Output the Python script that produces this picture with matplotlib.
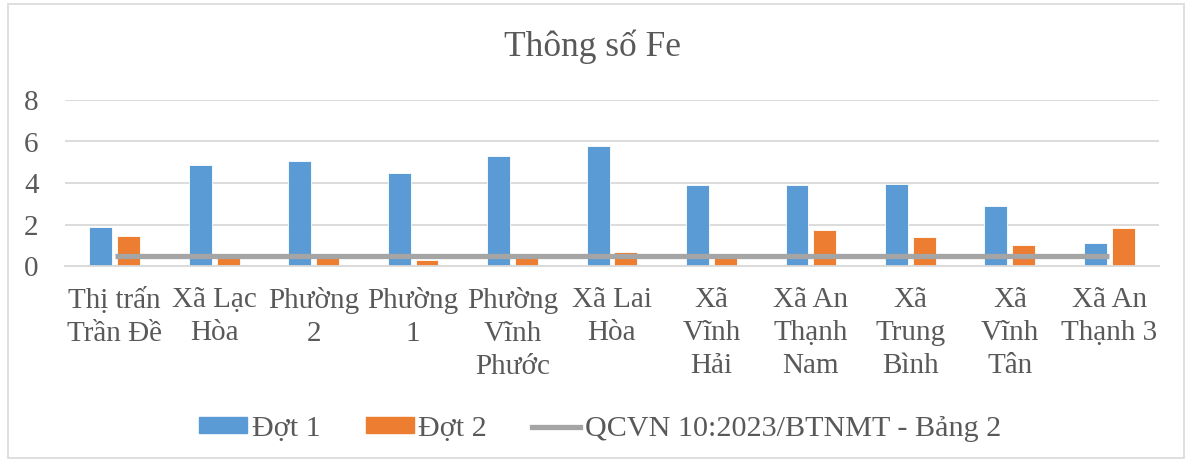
import matplotlib
matplotlib.use("Agg")
import matplotlib.pyplot as plt
import numpy as np
from matplotlib.patches import Rectangle, Patch
from matplotlib.lines import Line2D

categories = ["Thị trấn\nTrần Đề", "Xã Lạc\nHòa", "Phường\n2", "Phường\n1",
              "Phường\nVĩnh\nPhước", "Xã Lai\nHòa", "Xã\nVĩnh\nHải",
              "Xã An\nThạnh\nNam", "Xã\nTrung\nBình", "Xã\nVĩnh\nTân",
              "Xã An\nThạnh 3"]
dot1 = [1.88, 4.88, 5.04, 4.48, 5.31, 5.78, 3.88, 3.91, 3.96, 2.87, 1.10]
dot2 = [1.46, 0.37, 0.45, 0.28, 0.48, 0.68, 0.48, 1.75, 1.42, 1.00, 1.82]
qcvn = [0.5] * len(categories)
yticks = [0, 2, 4, 6, 8]

series_names = ["Đợt 1", "Đợt 2", "QCVN 10:2023/BTNMT - Bảng 2"]
title = "Thông số Fe"

BLUE = "#5B9BD5"
ORANGE = "#ED7D31"
GRAY = "#A5A5A5"
TXT = "#595959"
GRID = "#D9D9D9"

plt.rcParams['font.family'] = ['Liberation Serif', 'DejaVu Serif']

W, H = 1186, 461
fig = plt.figure(figsize=(W / 100, H / 100), dpi=100)
fig.patch.set_facecolor("white")

# outer border
fig.patches.append(Rectangle((7.5 / W, 3.5 / H), (1184 - 7.5) / W, (457 - 3.5) / H,
                             transform=fig.transFigure, fill=False,
                             edgecolor=GRID, linewidth=1.2))

ax = fig.add_axes([65 / W, (H - 266) / H, (1159 - 65) / W, (266 - 100) / H])
x = np.arange(len(categories))
bw = 0.23
ax.bar(x - 0.14, dot1, width=bw, color=BLUE, edgecolor="white", linewidth=0.6, zorder=2)
ax.bar(x + 0.14, dot2, width=bw, color=ORANGE, edgecolor="white", linewidth=0.6, zorder=2)
ax.plot(x, qcvn, color=GRAY, linewidth=3.8, solid_capstyle="butt", zorder=3)

ax.set_xlim(-0.5, len(categories) - 0.5)
ax.set_ylim(0, 8)
ax.set_yticks(yticks)
ax.set_yticklabels([str(v) for v in yticks])
ax.set_xticks(x)
ax.set_xticklabels(categories, linespacing=1.36)
ax.tick_params(axis="both", length=0, labelsize=21, labelcolor=TXT)
ax.tick_params(axis="y", pad=19)
ax.tick_params(axis="x", pad=15)
ax.yaxis.grid(True, color=GRID, linewidth=1.3, zorder=0)
ax.set_axisbelow(True)
for s in ["top", "right", "left"]:
    ax.spines[s].set_visible(False)
ax.spines["bottom"].set_color(GRID)
ax.spines["bottom"].set_linewidth(1.3)

fig.text(0.5, 1 - 47 / H, title, ha="center", va="center", fontsize=25.5, color=TXT)

handles = [Patch(facecolor=BLUE, edgecolor=BLUE),
           Patch(facecolor=ORANGE, edgecolor=ORANGE),
           Line2D([0], [0], color=GRAY, linewidth=3.8)]
leg = fig.legend(handles, series_names, loc="center", bbox_to_anchor=(600 / W, 1 - 429 / H),
                 ncol=3, frameon=False, fontsize=21.7, handlelength=1.6,
                 handleheight=0.45, handletextpad=0.15, columnspacing=1.5)
for t in leg.get_texts():
    t.set_color(TXT)

fig.savefig("out.png", dpi=100, facecolor="white")
